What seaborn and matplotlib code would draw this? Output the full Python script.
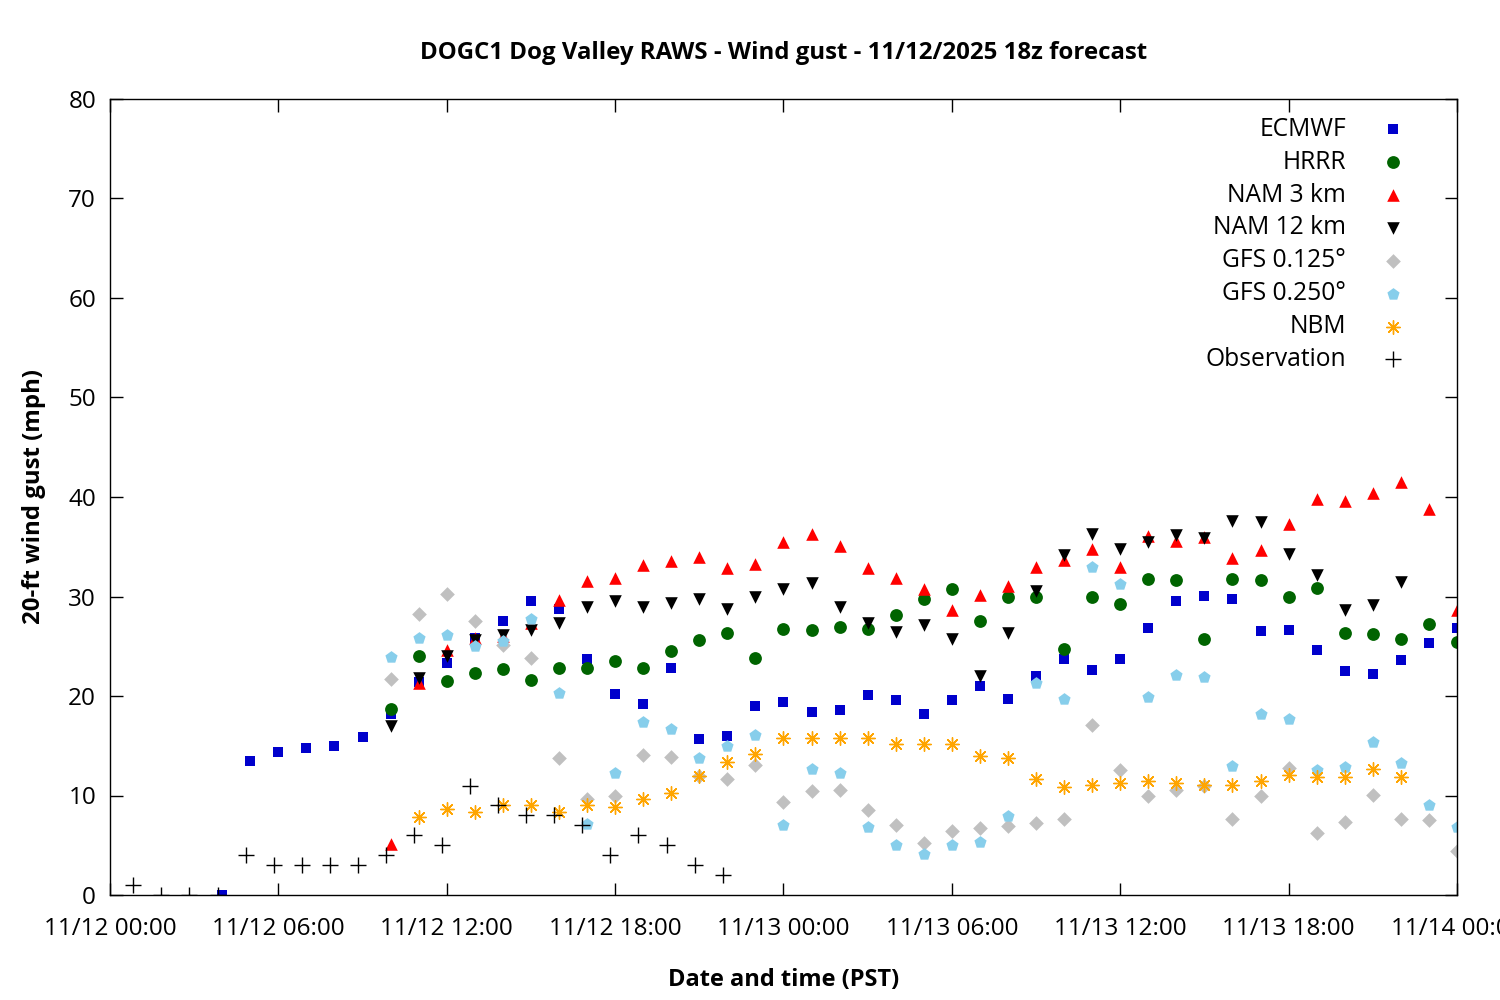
import matplotlib
matplotlib.use('Agg')
import matplotlib.pyplot as plt
import matplotlib.dates as mdates
import seaborn as sns
import numpy as np
import pandas as pd

# Dane: porywy wiatru (mph), godziny od 11/12 00:00 PST
start = pd.Timestamp('2025-11-12 00:00')

ecmwf_h = list(range(4, 49))
ecmwf = [0, 13.5, 14.4, 14.8, 15.0, 15.9, 18.2, 21.4, 23.3, 25.8, 27.5, 29.5, 28.7, 23.7, 20.2,
         19.2, 22.8, 15.7, 16.0, 19.0, 19.4, 18.4, 18.6, 20.1, 19.6, 18.2, 19.6, 21.0, 19.7, 22.0,
         23.7, 22.6, 23.7, 26.8, 29.5, 30.1, 29.7, 26.5, 26.6, 24.6, 22.5, 22.2, 23.6, 25.3, 26.8]

hrrr_h = list(range(10, 49))
hrrr = [18.7, 24.0, 21.5, 22.3, 22.7, 21.6, 22.8, 22.8, 23.5, 22.8, 24.5, 25.6, 26.3, 23.8,
        26.7, 26.6, 26.9, 26.7, 28.1, 29.7, 30.8, 27.5, 30.0, 30.0, 24.7, 29.9, 29.2, 31.8,
        31.7, 25.7, 31.8, 31.7, 30.0, 30.9, 26.3, 26.2, 25.7, 27.2, 25.4]

nam3_h = list(range(10, 49))
nam3 = [5.1, 21.3, 24.6, 25.8, 26.0, 27.3, 29.6, 31.6, 31.9, 33.2, 33.6, 34.0, 32.9, 33.3,
        35.5, 36.3, 35.1, 32.9, 31.9, 30.8, 28.6, 30.2, 31.1, 33.0, 33.7, 34.8, 33.0, 36.1,
        35.6, 36.0, 33.9, 34.7, 37.3, 39.8, 39.6, 40.4, 41.5, 38.8, 28.6]

nam12_h = list(range(10, 47))
nam12 = [17.0, 21.8, 24.0, 25.6, 26.1, 26.6, 27.3, 28.9, 29.5, 28.9, 29.3, 29.7, 28.7, 29.9,
         30.8, 31.4, 28.9, 27.3, 26.4, 27.1, 25.7, 22.0, 26.3, 30.6, 34.2, 36.3, 34.8, 35.5,
         36.2, 35.9, 37.6, 37.5, 34.3, 32.2, 28.6, 29.1, 31.5]

gfs125_h = list(range(10, 49))
gfs125 = [21.7, 28.2, 30.3, 27.5, 25.1, 23.8, 13.8, 9.6, 10.0, 14.1, 13.9, 12.0, 11.7, 13.1,
          9.3, 10.5, 10.6, 8.5, 7.0, 5.2, 6.4, 6.7, 6.9, 7.2, 7.6, 17.1, 12.6, 10.0, 10.6,
          11.0, 7.6, 10.0, 12.8, 6.2, 7.3, 10.1, 7.6, 7.5, 4.4]

gfs250_h = list(range(10, 49))
gfs250 = [23.9, 25.8, 26.1, 25.0, 25.5, 27.7, 20.3, 7.1, 12.3, 17.4, 16.7, 13.8, 15.0, 16.1,
          7.0, 12.7, 12.3, 6.8, 5.0, 4.1, 5.0, 5.3, 7.9, 21.3, 19.7, 33.0, 31.3, 19.9, 22.1,
          21.9, 13.0, 18.2, 17.7, 12.6, 12.9, 15.4, 13.3, 9.0, 6.8]

nbm_h = list(range(11, 47))
nbm = [7.8, 8.6, 8.3, 9.0, 9.0, 8.3, 9.0, 8.8, 9.6, 10.3, 12.0, 13.4, 14.2, 15.8, 15.8, 15.8,
       15.8, 15.2, 15.2, 15.2, 14.0, 13.8, 11.7, 10.9, 11.1, 11.3, 11.5, 11.3, 11.1, 11.1,
       11.5, 12.1, 11.9, 11.9, 12.7, 11.9]

# obserwacje o hh:50
obs_h = [h + 50 / 60 for h in range(0, 22)]
obs = [1, 0, 0, 0, 4, 3, 3, 3, 3, 4, 6, 5, 11, 9, 8, 8, 7, 4, 6, 5, 3, 2]

serie = [
    ('ECMWF', ecmwf_h, ecmwf, 's', '#0000cc', 56),
    ('HRRR', hrrr_h, hrrr, 'o', '#006400', 85),
    ('NAM 3 km', nam3_h, nam3, '^', '#ff0000', 82),
    ('NAM 12 km', nam12_h, nam12, 'v', '#000000', 82),
    ('GFS 0.125°', gfs125_h, gfs125, 'D', '#c0c0c0', 56),
    ('GFS 0.250°', gfs250_h, gfs250, 'p', '#87ceeb', 85),
    ('NBM', nbm_h, nbm, (8, 2, 0), '#ffa500', 95),
    ('Observation', obs_h, obs, '+', '#000000', 120),
]

sns.set_style('ticks')
plt.rcParams['font.family'] = ['Open Sans', 'DejaVu Sans']
plt.rcParams['text.color'] = 'black'
plt.rcParams['axes.labelcolor'] = 'black'

fig = plt.figure(figsize=(15, 10), dpi=100)
ax = fig.add_axes([0.0733, 0.105, 0.898, 0.796])

for nazwa, godz, wart, marker, kolor, rozmiar in serie:
    czas = start + pd.to_timedelta(godz, unit='h')
    df = pd.DataFrame({'czas': czas, 'wart': wart})
    if marker == '+' or isinstance(marker, tuple):
        sns.scatterplot(data=df, x='czas', y='wart', marker=marker, color=kolor, s=rozmiar,
                        linewidth=1.0, label=nazwa, ax=ax)
    else:
        sns.scatterplot(data=df, x='czas', y='wart', marker=marker, color=kolor, s=rozmiar,
                        linewidth=0, label=nazwa, ax=ax)

ax.set_xlim(start, start + pd.Timedelta(hours=48))
ax.set_ylim(0, 80)
ax.set_yticks(np.arange(0, 81, 10))
ax.xaxis.set_major_locator(mdates.HourLocator(byhour=range(0, 24, 6)))
ax.xaxis.set_major_formatter(mdates.DateFormatter('%m/%d %H:%M'))
ax.tick_params(direction='in', length=9, width=1, top=True, right=True,
               labelsize=17.5, colors='black')
ax.tick_params(axis='x', pad=16)
ax.tick_params(axis='y', pad=10)
for s in ax.spines.values():
    s.set_linewidth(1)
    s.set_color('black')
    s.set_visible(True)

ax.set_title('DOGC1 Dog Valley RAWS - Wind gust - 11/12/2025 18z forecast',
             fontsize=17.3, fontweight='bold', pad=29, color='black')
ax.set_xlabel('Date and time (PST)', fontsize=17, fontweight='bold', labelpad=19)
ax.set_ylabel('20-ft wind gust (mph)', fontsize=17.3, fontweight='bold', labelpad=16)

# legenda: tekst po lewej, wyrównany do prawej, znacznik po prawej
leg = ax.legend(loc='upper right', frameon=False, markerfirst=False, fontsize=17.7,
                handletextpad=0.9, labelspacing=0.32, borderaxespad=0,
                bbox_to_anchor=(0.978, 0.99))
for t in leg.get_texts():
    t.set_color('black')

fig.savefig('out.png', dpi=100)
